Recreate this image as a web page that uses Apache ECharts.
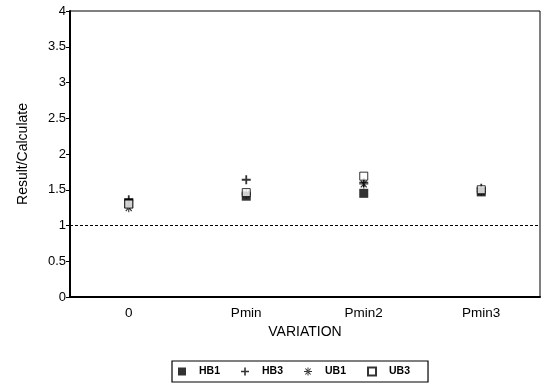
<!DOCTYPE html>
<html><head><meta charset="utf-8">
<script src="https://cdn.jsdelivr.net/npm/echarts@6/dist/echarts.min.js"></script>
<style>html,body{margin:0;padding:0;background:#fff}#c{width:543px;height:384px}</style>
</head><body><div id="c"></div>
<script>
var categories = ['0', 'Pmin', 'Pmin2', 'Pmin3'];
var hb1 = [1.32, 1.41, 1.45, 1.47];
var hb3 = [1.36, 1.64, 1.60, 1.52];
var ub1 = [1.25, 1.44, 1.58, 1.48];
var ub3 = [1.30, 1.46, 1.69, 1.50];
var refValue = 1;

var plusPath = 'path://M0,4L10,4L10,6L0,6ZM4,0L6,0L6,10L4,10Z';
var starPath = 'path://M0,4.4L10,4.4L10,5.6L0,5.6ZM1.2,1.6L2.2,0.8L8.8,8.4L7.8,9.2ZM8.8,1.6L7.8,0.8L1.2,8.4L2.2,9.2ZM4.4,0L5.6,0L5.6,10L4.4,10Z';

var font = 'Liberation Sans, Arial, sans-serif';
var chart = echarts.init(document.getElementById('c'), null, {renderer: 'canvas'});

function mk(name, data, symbol, size, style, extra) {
  var s = {
    name: name, type: 'scatter', data: data, symbol: symbol, symbolSize: size,
    itemStyle: style, z: 3
  };
  if (extra) for (var k in extra) s[k] = extra[k];
  return s;
}

chart.setOption({
  animation: false,
  backgroundColor: '#fff',
  textStyle: {fontFamily: font, color: '#000'},
  grid: {left: 70, right: 3, top: 11, bottom: 87, show: true, borderColor: '#000', borderWidth: 1},
  legend: {
    left: 172, top: 361,
    padding: [5, 18, 5, 6],
    borderColor: '#000', borderWidth: 1.2,
    itemWidth: 8, itemHeight: 8, itemGap: 21,
    textStyle: {fontFamily: font, fontSize: 10.5, fontWeight: 'bold', color: '#000', padding: [0, 0, 0, 8]},
    data: [
      {name: 'HB1', icon: 'rect'},
      {name: 'HB3', icon: plusPath},
      {name: 'UB1', icon: starPath},
      {name: 'UB3', icon: 'rect'}
    ]
  },
  xAxis: {
    type: 'category', data: categories,
    name: 'VARIATION', nameLocation: 'middle', nameGap: 27,
    nameTextStyle: {fontFamily: font, fontSize: 14, color: '#000'},
    axisLine: {lineStyle: {color: '#000', width: 2}},
    axisTick: {alignWithLabel: true, length: 4, lineStyle: {color: '#000'}},
    axisLabel: {fontFamily: font, fontSize: 13.5, color: '#000', margin: 9},
    splitLine: {show: false}
  },
  yAxis: {
    type: 'value', min: 0, max: 4, interval: 0.5,
    name: 'Result/Calculate', nameLocation: 'middle', nameGap: 40, nameRotate: 90,
    nameTextStyle: {fontFamily: font, fontSize: 14, color: '#000'},
    axisLine: {show: true, lineStyle: {color: '#000', width: 2}},
    axisTick: {show: true, length: 4, lineStyle: {color: '#000'}},
    axisLabel: {fontFamily: font, fontSize: 13, color: '#000', margin: 4},
    splitLine: {show: false}
  },
  series: [
    mk('HB1', hb1, 'rect', 9, {color: '#000'}, {
      markLine: {
        silent: true, symbol: 'none', label: {show: false},
        lineStyle: {color: '#000', type: [3, 2], width: 1.2},
        data: [{yAxis: refValue}]
      }
    }),
    mk('HB3', hb3, plusPath, 9, {color: '#000'}),
    mk('UB1', ub1, starPath, 9, {color: '#000'}),
    mk('UB3', ub3, 'rect', 8, {color: '#fff', borderColor: '#000', borderWidth: 1})
  ]
});
</script></body></html>
